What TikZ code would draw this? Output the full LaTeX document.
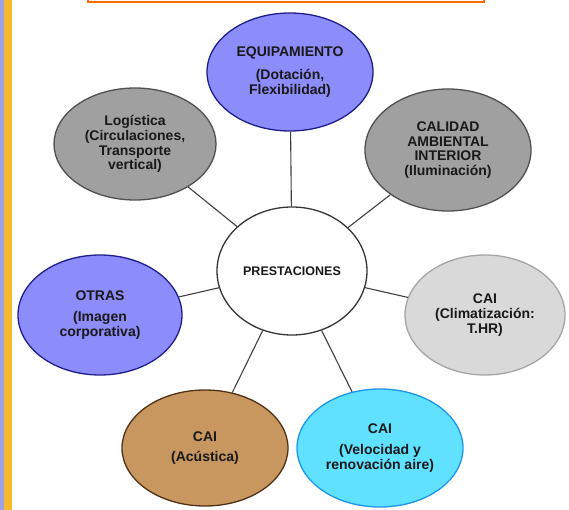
\documentclass[tikz,border=0pt]{standalone}
\usepackage{fontspec}
\setmainfont{Liberation Sans}
\usetikzlibrary{shapes.geometric}

\definecolor{bluefill}{RGB}{140,140,250}
\definecolor{blueline}{RGB}{30,30,140}
\definecolor{grayfill}{RGB}{160,160,160}
\definecolor{grayline}{RGB}{80,80,80}
\definecolor{lightfill}{RGB}{217,217,217}
\definecolor{lightline}{RGB}{165,165,165}
\definecolor{tanfill}{RGB}{200,150,95}
\definecolor{tanline}{RGB}{80,50,20}
\definecolor{cyanfill}{RGB}{95,225,255}
\definecolor{cyanline}{RGB}{30,150,240}
\definecolor{stripyellow}{RGB}{245,185,45}
\definecolor{striplav}{RGB}{160,160,230}
\definecolor{frameorange}{RGB}{255,105,0}

\begin{document}
\begin{tikzpicture}[x=1pt, y=-1pt,
  bub/.style={ellipse, draw, line width=1.3pt, align=center, inner sep=0pt, text=black!90,
    font=\bfseries\fontsize{14}{14.8}\selectfont},
  link/.style={draw=black!75, line width=1.1pt}]

\useasboundingbox (0,0) rectangle (569,510);
\fill[striplav] (0,0) rectangle (4,510);
\fill[stripyellow] (4,0) rectangle (12,510);
\draw[frameorange, line width=2.5pt] (88,-10) rectangle (484,2);

\node[bub, fill=white, draw=black!80, minimum width=150pt, minimum height=128pt,
  font=\bfseries\fontsize{12.5}{14}\selectfont] (pre) at (292,271) {PRESTACIONES};

\node[bub, fill=grayfill, draw=grayline, minimum width=162pt, minimum height=112pt] (log) at (135,144)
  {Logística\\(Circulaciones,\\Transporte\\vertical)};
\node[bub, fill=bluefill, draw=blueline, minimum width=166pt, minimum height=118pt] (eq) at (290,72)
  {EQUIPAMIENTO\\[9pt](Dotación,\\Flexibilidad)};
\node[bub, fill=grayfill, draw=grayline, minimum width=166pt, minimum height=122pt] (cal) at (448,150)
  {CALIDAD\\AMBIENTAL\\INTERIOR\\(Iluminación)};
\node[bub, fill=lightfill, draw=lightline, minimum width=160pt, minimum height=120pt] (cli) at (485,315)
  {CAI\\(Climatización:\\T.HR)};
\node[bub, fill=bluefill, draw=blueline, minimum width=164pt, minimum height=120pt] (otr) at (100,315)
  {OTRAS\\[6pt](Imagen\\corporativa)};
\node[bub, fill=tanfill, draw=tanline, minimum width=166pt, minimum height=116pt] (acu) at (205,448)
  {CAI\\[6pt](Acústica)};
\node[bub, fill=cyanfill, draw=cyanline, minimum width=166pt, minimum height=118pt] (vel) at (380,448)
  {CAI\\[7pt](Velocidad y\\renovación aire)};

\draw[link] (pre) -- (eq);
\draw[link] (pre) -- (log);
\draw[link] (pre) -- (cal);
\draw[link] (pre) -- (otr);
\draw[link] (pre) -- (cli);
\draw[link] (pre) -- (acu);
\draw[link] (pre) -- (vel);
\end{tikzpicture}
\end{document}
